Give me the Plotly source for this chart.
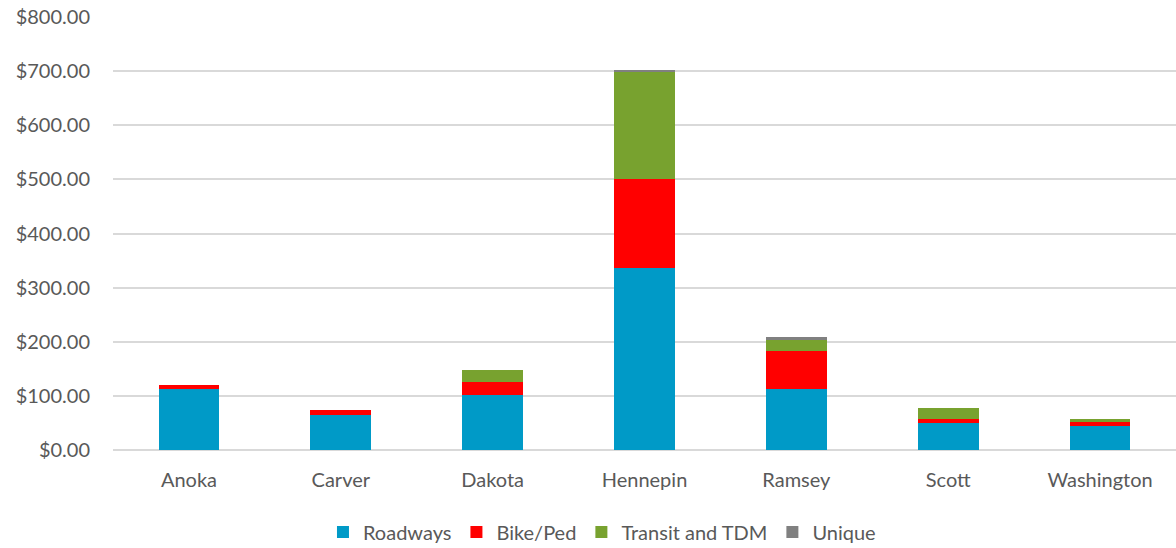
import plotly.graph_objects as go

counties = ["Anoka", "Carver", "Dakota", "Hennepin", "Ramsey", "Scott", "Washington"]
roadways = [113, 65, 101, 336, 113, 50, 44]
bike_ped = [8, 9, 25, 165, 70, 7, 8]
transit = [0, 0, 21, 199, 21, 21, 6]
unique = [0, 0, 0, 1, 4, 0, 0]
y_ticks = [0, 100, 200, 300, 400, 500, 600, 700, 800]
y_tick_labels = ["$0.00", "$100.00", "$200.00", "$300.00", "$400.00", "$500.00", "$600.00", "$700.00", "$800.00"]

series = [
    ("Roadways", roadways, "#009AC7"),
    ("Bike/Ped", bike_ped, "#FF0000"),
    ("Transit and TDM", transit, "#78A22F"),
    ("Unique", unique, "#808080"),
]

fig = go.Figure()
for name, vals, color in series:
    fig.add_trace(go.Bar(x=counties, y=vals, name=name, marker=dict(color=color, line=dict(width=0))))

font_family = "Lato, 'Open Sans', sans-serif"
fig.update_layout(
    barmode="stack",
    bargap=0.6,
    width=1176,
    height=548,
    margin=dict(l=113, r=0, t=17, b=98),
    paper_bgcolor="white",
    plot_bgcolor="white",
    font=dict(family=font_family, size=20, color="#595959"),
    legend=dict(orientation="h", x=0.46, xanchor="center", yref="container", y=0.065, yanchor="top",
                font=dict(size=20, color="#595959"), traceorder="normal",
                itemwidth=30),
    xaxis=dict(showgrid=False, showline=False, ticks="", ticklabelstandoff=16, automargin=False,
               tickfont=dict(size=20, color="#595959")),
    yaxis=dict(range=[0, 800], tickvals=y_ticks, ticktext=y_tick_labels, showgrid=True,
               gridcolor="#D9D9D9", gridwidth=1.5, zeroline=True, zerolinecolor="#D9D9D9",
               zerolinewidth=1.5, ticks="", ticklabelstandoff=22, automargin=False,
               tickfont=dict(size=20, color="#595959")),
)

fig.write_html("out.html")
